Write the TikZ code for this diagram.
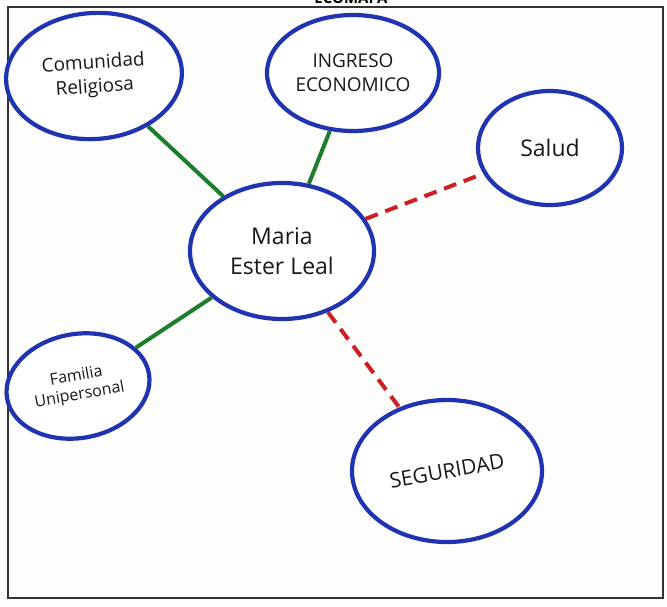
\documentclass[tikz,border=0pt]{standalone}
\usepackage{fontspec}
\setmainfont{Open Sans}
\usetikzlibrary{shapes.geometric}
\definecolor{pen}{RGB}{32,52,178}
\definecolor{strong}{RGB}{30,125,45}
\definecolor{weak}{RGB}{205,30,35}
\definecolor{paper}{RGB}{253,253,251}
\tikzset{
  sys/.style={ellipse, draw=pen, line width=4.2pt, fill=white, inner sep=0pt, align=center,
    font=\fontsize{19}{24}\selectfont, text=black!90},
  stronglink/.style={draw=strong, line width=4pt},
  weaklink/.style={draw=weak, line width=4pt, dash pattern=on 13pt off 8pt},
  frame/.style={draw=black!80, line width=1.2pt}
}
\begin{document}
\begin{tikzpicture}[x=1pt,y=-1pt]
\useasboundingbox (0,0) rectangle (667,606);
\fill[paper] (0,0) rectangle (667,606);
\node[font=\bfseries\fontsize{15}{15}\selectfont, anchor=base] (title) at (351,3) {ECOMAPA};
\draw[frame] (8,7) -- (663,7) -- (663,598) -- (8,598) -- cycle;

\node[sys, minimum width=176pt, minimum height=126pt, rotate=4] (com) at (94,76) {Comunidad\\Religiosa};
\node[sys, minimum width=172pt, minimum height=116pt] (ing) at (353,73) {INGRESO\\ECONOMICO};
\node[sys, minimum width=144pt, minimum height=114pt, font=\fontsize{23}{28}\selectfont] (sal) at (550,148) {Salud};
\node[sys, minimum width=184pt, minimum height=136pt, font=\fontsize{23}{30}\selectfont] (maria) at (282,251) {Maria\\Ester Leal};
\node[sys, minimum width=144pt, minimum height=104pt, rotate=10, font=\fontsize{16}{19}\selectfont] (fam) at (78,386) {Familia\\Unipersonal};
\node[sys, minimum width=190pt, minimum height=142pt, font=\fontsize{21}{25}\selectfont] (seg) at (447,471) {\rotatebox{10}{SEGURIDAD}};

\draw[stronglink] (com) -- (maria);
\draw[stronglink] (ing) -- (maria);
\draw[stronglink] (fam) -- (maria);
\draw[weaklink] (maria) -- (sal);
\draw[weaklink] (maria) -- (seg);
\end{tikzpicture}
\end{document}
